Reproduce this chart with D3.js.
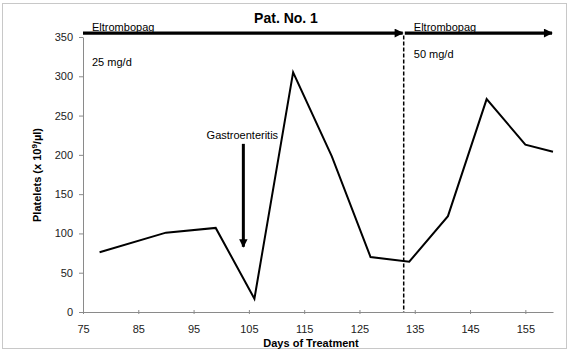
<!DOCTYPE html>
<html lang="en">
  <head>
    <meta charset="UTF-8" />
    <title>Pat. No. 1</title>
    <style>
      body {
        margin: 0;
        overflow: hidden;
        background: #fff;
      }
      text {
        font-family: "Liberation Sans", Arial, sans-serif;
      }
    </style>
    <script src="https://cdn.jsdelivr.net/npm/d3@7"></script>
  </head>
  <body>
    <script>
      const width = 569;
      const height = 351;

      // platelet counts
      const days = [78, 90, 99, 106, 113, 120, 127, 134, 141, 148, 155, 160];
      const platelets = [76, 101, 107, 17, 305, 198, 70, 64, 122, 271, 213, 204];
      const xTicks = [75, 85, 95, 105, 115, 125, 135, 145, 155];
      const yTicks = [0, 50, 100, 150, 200, 250, 300, 350];

      // treatment phases: start day, end day, label, dose
      const phases = [
        { from: 75, to: 133, name: "Eltrombopag", dose: "25 mg/d" },
        { from: 133.2, to: 160, name: "Eltrombopag", dose: "50 mg/d" },
      ];
      const doseChangeDay = 133;
      const event = { day: 104, top: 214, tip: 83, label: "Gastroenteritis" };

      const margin = { top: 37, right: 16, bottom: 39, left: 83 };

      const svg = d3
        .select("body")
        .append("svg")
        .attr("width", width)
        .attr("height", height);

      // outer frame
      svg
        .append("rect")
        .attr("x", 2.5)
        .attr("y", 3.5)
        .attr("width", 564)
        .attr("height", 345)
        .attr("fill", "none")
        .attr("stroke", "#c8c8c8");

      const x = d3
        .scaleLinear()
        .domain([75, 160])
        .range([margin.left, width - margin.right]);
      const y = d3
        .scaleLinear()
        .domain([0, 350])
        .range([height - margin.bottom, margin.top]);

      const defs = svg.append("defs");
      defs
        .append("marker")
        .attr("id", "head")
        .attr("viewBox", "0 0 10 10")
        .attr("refX", 9)
        .attr("refY", 5)
        .attr("markerWidth", 3.3)
        .attr("markerHeight", 2.8)
        .attr("markerUnits", "strokeWidth")
        .attr("orient", "auto")
        .append("path")
        .attr("d", "M0,0 L10,5 L0,10 Z")
        .attr("fill", "#000");

      const xAxis = svg
        .append("g")
        .attr("transform", `translate(0,${y(0)})`)
        .call(
          d3.axisBottom(x).tickValues(xTicks).tickSize(4).tickSizeOuter(0)
        );
      const yAxis = svg
        .append("g")
        .attr("transform", `translate(${x(75)},0)`)
        .call(d3.axisLeft(y).tickValues(yTicks).tickSize(4).tickSizeOuter(0));

      [xAxis, yAxis].forEach((g) => {
        g.select(".domain").attr("stroke", "#8a8a8a");
        g.selectAll(".tick line").attr("stroke", "#8a8a8a");
        g.selectAll(".tick text")
          .attr("fill", "#222")
          .style("font-size", "11px")
          .style("font-family", "'Liberation Sans', Arial, sans-serif");
      });
      xAxis.selectAll(".tick line").attr("y1", -2).attr("y2", 2);
      xAxis.selectAll(".tick text").attr("dy", "1.3em");
      yAxis.selectAll(".tick text").attr("x", -10);

      // dose change
      svg
        .append("line")
        .attr("x1", x(doseChangeDay))
        .attr("x2", x(doseChangeDay))
        .attr("y1", y(352))
        .attr("y2", y(0))
        .attr("stroke", "#000")
        .attr("stroke-width", 1.5)
        .attr("stroke-dasharray", "4,2");

      // data line
      const line = d3
        .line()
        .x((d) => x(d[0]))
        .y((d) => y(d[1]));
      svg
        .append("path")
        .datum(days.map((d, i) => [d, platelets[i]]))
        .attr("d", line)
        .attr("fill", "none")
        .attr("stroke", "#000")
        .attr("stroke-width", 2)
        .attr("stroke-linejoin", "miter");

      // phase arrows + labels
      phases.forEach((p) => {
        svg
          .append("line")
          .attr("x1", x(p.from))
          .attr("x2", x(p.to) - 1)
          .attr("y1", y(355))
          .attr("y2", y(355))
          .attr("stroke", "#000")
          .attr("stroke-width", 3.2)
          .attr("marker-end", "url(#head)");
        svg
          .append("text")
          .attr("x", x(p.from) + 9)
          .attr("y", 31)
          .style("font-size", "11px")
          .text(p.name);
      });
      svg
        .append("text")
        .attr("x", x(phases[0].from) + 9)
        .attr("y", 66)
        .style("font-size", "11px")
        .text(phases[0].dose);
      svg
        .append("text")
        .attr("x", x(phases[1].from) + 9)
        .attr("y", 58)
        .style("font-size", "11px")
        .text(phases[1].dose);

      // event arrow
      svg
        .append("line")
        .attr("x1", x(event.day))
        .attr("x2", x(event.day))
        .attr("y1", y(event.top))
        .attr("y2", y(event.tip))
        .attr("stroke", "#000")
        .attr("stroke-width", 3)
        .attr("marker-end", "url(#head)");
      svg
        .append("text")
        .attr("x", x(event.day) - 1)
        .attr("y", 139)
        .attr("text-anchor", "middle")
        .style("font-size", "11px")
        .text(event.label);

      // titles
      svg
        .append("text")
        .attr("x", 286)
        .attr("y", 23)
        .attr("text-anchor", "middle")
        .style("font-size", "14px")
        .style("font-weight", "bold")
        .text("Pat. No. 1");
      svg
        .append("text")
        .attr("x", 311)
        .attr("y", 347)
        .attr("text-anchor", "middle")
        .style("font-size", "11px")
        .style("font-weight", "bold")
        .text("Days of Treatment");
      const yl = svg
        .append("text")
        .attr("transform", "translate(41,175) rotate(-90)")
        .attr("text-anchor", "middle")
        .style("font-size", "11px")
        .style("font-weight", "bold");
      yl.append("tspan").text("Platelets (x 10");
      yl.append("tspan").attr("dy", -4).style("font-size", "8px").text("9");
      yl.append("tspan").attr("dy", 4).text("/µl)");
    </script>
  </body>
</html>
